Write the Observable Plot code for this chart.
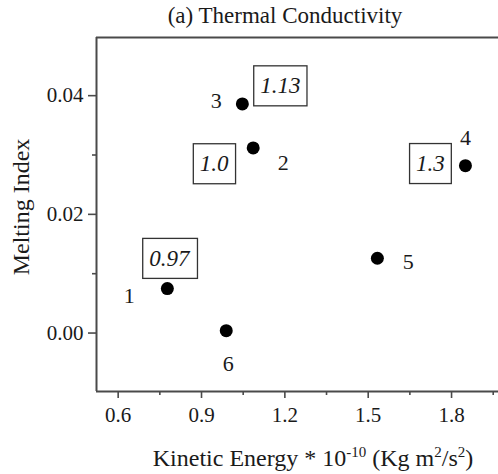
<!DOCTYPE html>
<html>
<head>
<meta charset="utf-8">
<script src="https://cdn.jsdelivr.net/npm/d3@7"></script>
<script src="https://cdn.jsdelivr.net/npm/@observablehq/plot@0.6"></script>
<style>
  body { margin: 0; background: #fff; }
</style>
</head>
<body>
<div id="chart"></div>
<script>
// Samples: kinetic energy (×10^-10 kg m²/s²) vs melting index,
// annotated with the thermal conductivity of samples 1–4.
const samples = ["1", "2", "3", "4", "5", "6"];
const kineticEnergy = [0.777, 1.086, 1.047, 1.850, 1.533, 0.989];
const meltingIndex = [0.0075, 0.0312, 0.0386, 0.0282, 0.0126, 0.0004];
const conductivity = ["0.97", "1.0", "1.13", "1.3", null, null];

const xTicks = [0.6, 0.9, 1.2, 1.5, 1.8];
const xMinorTicks = [0.75, 1.05, 1.35, 1.65, 1.95];
const yTicks = [0, 0.02, 0.04];
const yMinorTicks = [0.01, 0.03];

const xDomain = [0.522, 1.969];
const yDomain = [-0.00985, 0.0498];

const points = samples.map((s, i) => ({
  sample: s, energy: kineticEnergy[i], melt: meltingIndex[i], k: conductivity[i]
}));

// label placement around each dot, in pixels
const numberOffset = [[-38, 7], [30, 15], [-26, -3], [0, -28], [31, 4], [2, 33]];
const boxOffset = [[2, -30], [-39, 16], [38, -18], [-35, -2], null, null];

const fontFamily = '"Liberation Serif", "Times New Roman", serif';
const axisColor = "#4a4a4a";
const inkColor = "#1a1a1a";

const numberMarks = points.map((p, i) =>
  Plot.text([p], {
    x: "energy", y: "melt", text: "sample",
    dx: numberOffset[i][0], dy: numberOffset[i][1],
    fontSize: 22, fill: inkColor
  })
);

const boxMarks = points.filter(p => p.k != null).map((p, i) =>
  Plot.text([p], {
    x: "energy", y: "melt", text: "k",
    dx: boxOffset[i][0], dy: boxOffset[i][1],
    fontSize: 23, fontStyle: "italic", fill: inkColor,
    className: "kbox"
  })
);

const plot = Plot.plot({
  width: 498,
  height: 474,
  marginTop: 37,
  marginBottom: 83,
  marginLeft: 96,
  marginRight: 0,
  style: { color: inkColor, background: "#fff", overflow: "visible", fontFamily },
  x: { domain: xDomain },
  y: { domain: yDomain },
  marks: [
    Plot.axisX({ ticks: xTicks, tickSize: 7, tickPadding: 9, tickFormat: d3.format(".1f"),
                 fontSize: 21, stroke: axisColor, strokeWidth: 1.6, label: null }),
    Plot.axisX({ ticks: xMinorTicks, tickSize: 4, tickFormat: () => "",
                 stroke: axisColor, strokeWidth: 1.6, label: null }),
    Plot.axisY({ ticks: yTicks, tickSize: 8, tickPadding: 5, tickFormat: d3.format(".2f"),
                 fontSize: 21, stroke: axisColor, strokeWidth: 1.6, label: null }),
    Plot.axisY({ ticks: yMinorTicks, tickSize: 4, tickFormat: () => "",
                 stroke: axisColor, strokeWidth: 1.6, label: null }),
    Plot.ruleY([yDomain[0]], { stroke: axisColor, strokeWidth: 2 }),
    Plot.ruleY([yDomain[1]], { stroke: axisColor, strokeWidth: 2 }),
    Plot.ruleX([xDomain[0]], { stroke: axisColor, strokeWidth: 2 }),
    Plot.dot(points, { x: "energy", y: "melt", r: 6.5, fill: "#000", stroke: "none" }),
    ...numberMarks,
    ...boxMarks
  ]
});

document.getElementById("chart").append(plot);

const svg = d3.select(plot);

// boxes around the conductivity values (same transform as each label)
svg.selectAll(".kbox text").each(function () {
  const b = this.getBBox();
  const padX = 6.5, padY = 7.5;
  const parent = this.parentNode;
  d3.select(parent).insert("rect", () => this)
    .attr("transform", this.getAttribute("transform"))
    .attr("x", b.x - padX).attr("y", b.y - padY)
    .attr("width", b.width + 2 * padX).attr("height", b.height + 2 * padY)
    .attr("fill", "#fff").attr("stroke", "#333").attr("stroke-width", 1.3);
});

// title
svg.append("text")
  .attr("x", 285).attr("y", 23)
  .attr("text-anchor", "middle")
  .attr("font-size", 23).attr("fill", inkColor)
  .text("(a) Thermal Conductivity");

// y-axis label
svg.append("text")
  .attr("transform", "translate(29,207) rotate(-90)")
  .attr("text-anchor", "middle")
  .attr("font-size", 24).attr("fill", inkColor)
  .text("Melting Index");

// x-axis label with superscripts
const xl = svg.append("text")
  .attr("x", 313).attr("y", 466)
  .attr("text-anchor", "middle")
  .attr("font-size", 24).attr("fill", inkColor);
xl.append("tspan").text("Kinetic Energy * 10");
xl.append("tspan").attr("dy", -9).attr("font-size", 15).text("-10");
xl.append("tspan").attr("dy", 9).text(" (Kg m");
xl.append("tspan").attr("dy", -9).attr("font-size", 15).text("2");
xl.append("tspan").attr("dy", 9).text("/s");
xl.append("tspan").attr("dy", -9).attr("font-size", 15).text("2");
xl.append("tspan").attr("dy", 9).text(")");
</script>
</body>
</html>
